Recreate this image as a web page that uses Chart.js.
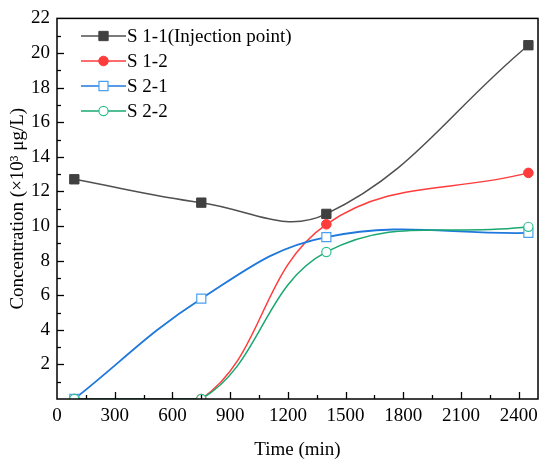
<!DOCTYPE html>
<html>
<head>
<meta charset="utf-8">
<script src="https://cdn.jsdelivr.net/npm/chart.js@4"></script>
<style>
  html, body { margin: 0; padding: 0; background: #fff; }
  #wrap { width: 550px; height: 466px; }
</style>
</head>
<body>
<div id="wrap"><canvas id="myChart" width="550" height="466"></canvas></div>
<script>
// sampling times (min)
var times = [90, 750, 1400, 2450];
// concentrations (x10^3 ug/L)
var s11 = [12.7, 11.35, 10.7, 20.45];
var s12 = [0, 0, 10.1, 13.07];
var s21 = [0, 5.8, 9.36, 9.6];
var s22 = [0, 0, 8.5, 9.95];
var seriesNames = ["S 1-1(Injection point)", "S 1-2", "S 2-1", "S 2-2"];
var xTicks = [0, 300, 600, 900, 1200, 1500, 1800, 2100, 2400];
var yTicks = [2, 4, 6, 8, 10, 12, 14, 16, 18, 20, 22];

var FONT = "'Liberation Serif', 'Times New Roman', serif";

function toPoints(vals) {
    return times.map(function (t, i) { return { x: t, y: vals[i] }; });
}

// 軸の目盛り（内向き）、枠線、凡例を描く
var framePlugin = {
    id: "frame",
    afterDraw: function (chart) {
        var ctx = chart.ctx;
        var area = chart.chartArea;
        var xs = chart.scales.x;
        var ys = chart.scales.y;
        ctx.save();
        ctx.strokeStyle = "#000";
        ctx.lineWidth = 1.3;
        // ticks on the y axis
        for (var v = 1; v <= 21; v++) {
            var py = Math.round(ys.getPixelForValue(v)) + 0.5;
            var len = (v % 2 === 0) ? 7 : 4;
            ctx.beginPath();
            ctx.moveTo(area.left, py);
            ctx.lineTo(area.left + len, py);
            ctx.stroke();
        }
        // ticks on the x axis
        for (var t = 150; t <= 2450; t += 150) {
            var px = Math.round(xs.getPixelForValue(t)) + 0.5;
            var l2 = (t % 300 === 0) ? 7 : 4;
            ctx.beginPath();
            ctx.moveTo(px, area.bottom);
            ctx.lineTo(px, area.bottom - l2);
            ctx.stroke();
        }
        // box
        ctx.lineWidth = 1.5;
        ctx.strokeRect(area.left, area.top, area.right - area.left, area.bottom - area.top);

        // legend
        ctx.font = "19px " + FONT;
        ctx.textBaseline = "middle";
        ctx.textAlign = "left";
        chart.data.datasets.forEach(function (ds, i) {
            var y = 36 + 25 * i;
            ctx.strokeStyle = ds.borderColor;
            ctx.lineWidth = 1.5;
            ctx.beginPath();
            ctx.moveTo(81, y);
            ctx.lineTo(126, y);
            ctx.stroke();
            ctx.fillStyle = ds.pointBackgroundColor;
            ctx.strokeStyle = ds.pointBorderColor;
            ctx.lineWidth = ds.pointBorderWidth;
            Chart.helpers.drawPoint(ctx, {
                pointStyle: ds.pointStyle,
                radius: ds.pointRadius,
                rotation: 0,
                borderWidth: ds.pointBorderWidth
            }, 103.5, y);
            ctx.fillStyle = "#000";
            ctx.fillText(ds.label, 127, y + 1);
        });
        ctx.restore();
    }
};

var ctx = document.getElementById("myChart");
var myChart = new Chart(ctx, {
    type: "line",
    data: {
        datasets: [
            {
                label: seriesNames[0],
                data: toPoints(s11),
                borderColor: "#505050",
                borderWidth: 1.5,
                pointStyle: "rect",
                pointRadius: 6.6,
                pointBackgroundColor: "#404040",
                pointBorderColor: "#404040",
                pointBorderWidth: 1,
                tension: 0.4,
                order: 3
            },
            {
                label: seriesNames[1],
                data: toPoints(s12),
                borderColor: "#ff3c3c",
                borderWidth: 1.5,
                pointStyle: "circle",
                pointRadius: 4.8,
                pointBackgroundColor: "#ff3c3c",
                pointBorderColor: "#ff3c3c",
                pointBorderWidth: 1,
                tension: 0.4,
                order: 2
            },
            {
                label: seriesNames[2],
                data: toPoints(s21),
                borderColor: "#1f78dc",
                borderWidth: 1.8,
                pointStyle: "rect",
                pointRadius: 6.4,
                pointBackgroundColor: "#ffffff",
                pointBorderColor: "#4aa0f0",
                pointBorderWidth: 1.2,
                tension: 0.4,
                order: 1
            },
            {
                label: seriesNames[3],
                data: toPoints(s22),
                borderColor: "#1aa870",
                borderWidth: 1.5,
                pointStyle: "circle",
                pointRadius: 4.6,
                pointBackgroundColor: "#ffffff",
                pointBorderColor: "#30c090",
                pointBorderWidth: 1.2,
                tension: 0.4,
                order: 0
            }
        ]
    },
    options: {
        responsive: false,
        animation: false,
        layout: { padding: { top: 12, right: 12, left: 0, bottom: 0 } },
        plugins: {
            legend: { display: false },
            tooltip: { enabled: false }
        },
        scales: {
            x: {
                type: "linear",
                min: 0,
                max: 2500,
                afterBuildTicks: function (scale) {
                    scale.ticks = xTicks.map(function (v) { return { value: v }; });
                },
                afterFit: function (scale) { scale.height = 67; },
                grid: { display: false, drawTicks: false },
                border: { display: false },
                ticks: {
                    padding: 6,
                    color: "#000",
                    maxRotation: 0,
                    autoSkip: false,
                    font: { family: FONT, size: 19 },
                    callback: function (value) { return String(value); }
                },
                title: {
                    display: true,
                    text: "Time (min)",
                    color: "#000",
                    font: { family: FONT, size: 19 },
                    padding: { top: 4, bottom: 5 }
                }
            },
            y: {
                min: 0,
                max: 22,
                afterBuildTicks: function (scale) {
                    scale.ticks = yTicks.map(function (v) { return { value: v }; });
                },
                afterFit: function (scale) { scale.width = 57; },
                grid: { display: false, drawTicks: false },
                border: { display: false },
                ticks: {
                    padding: 7,
                    color: "#000",
                    autoSkip: false,
                    font: { family: FONT, size: 19 },
                    callback: function (value) { return String(value); }
                },
                title: {
                    display: true,
                    text: "Concentration (×10³ μg/L)",
                    color: "#000",
                    font: { family: FONT, size: 19 },
                    padding: { top: 7, bottom: 4 }
                }
            }
        }
    },
    plugins: [framePlugin]
});
</script>
</body>
</html>
